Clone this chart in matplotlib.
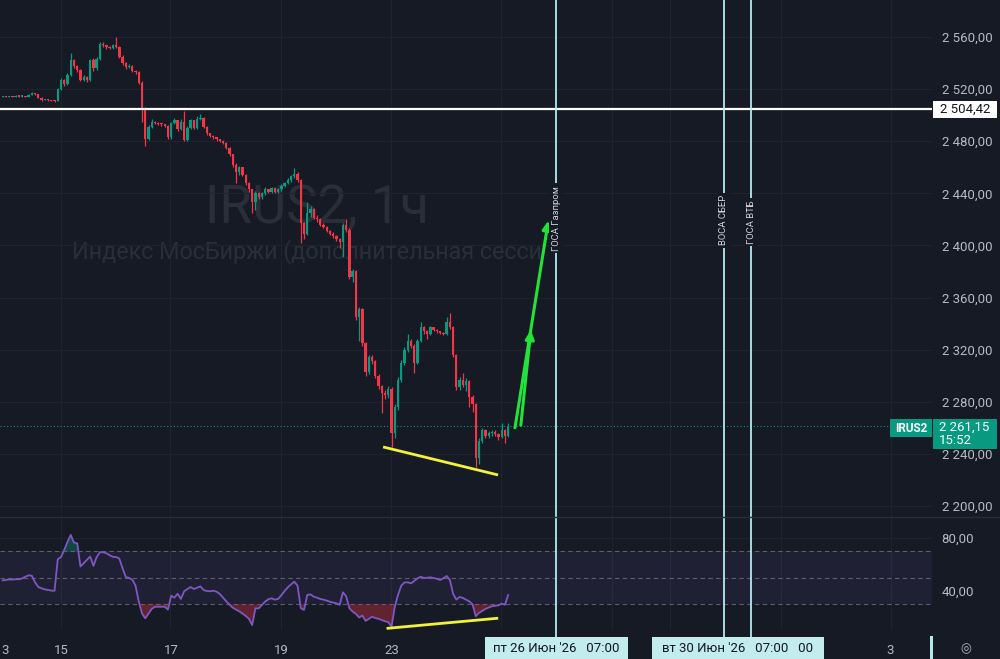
import numpy as np
import matplotlib.pyplot as plt
from matplotlib.patches import Rectangle
from matplotlib.ticker import FuncFormatter

plt.rcParams['font.family'] = ['Roboto', 'DejaVu Sans']

# ---- данные (часовые свечи IRUS2) ----
first_open = 2514.0
closes = [
    2514.5, 2514.0, 2514.6, 2514.2, 2514.8, 2514.3, 2514.6, 2514.0, 2515.5, 2516.8,
    2516.0, 2513.5, 2511.8, 2512.0, 2511.5, 2511.2, 2511.0, 2520.0, 2527.0, 2524.0,
    2531.0, 2542.0, 2538.0, 2535.0, 2527.0, 2529.0, 2527.0, 2542.0, 2536.0, 2543.0,
    2555.0, 2553.5, 2552.0, 2551.5, 2554.0, 2552.5, 2545.0, 2540.0, 2537.0, 2538.0,
    2534.0, 2533.0, 2525.0, 2505.0, 2482.0, 2491.0, 2495.0, 2494.0, 2493.5, 2493.0,
    2492.0, 2483.0, 2494.0, 2496.0, 2489.0, 2495.0, 2481.0, 2490.0, 2496.0, 2490.0,
    2497.0, 2498.0, 2491.0, 2486.0, 2484.0, 2483.0, 2481.5, 2480.5, 2479.0, 2475.0,
    2470.0, 2462.0, 2456.0, 2460.0, 2454.0, 2448.0, 2443.0, 2433.0, 2440.0, 2437.0,
    2440.0, 2443.0, 2441.0, 2444.0, 2441.0, 2443.0, 2446.0, 2448.0, 2450.0, 2453.0,
    2455.0, 2450.0, 2417.0, 2409.0, 2425.0, 2428.0, 2421.0, 2420.0, 2416.0, 2414.0,
    2411.0, 2409.0, 2407.0, 2405.0, 2403.0, 2416.0, 2412.0, 2376.0, 2380.0, 2345.0,
    2351.0, 2325.0, 2303.0, 2314.0, 2311.0, 2300.0, 2292.0, 2287.0, 2285.0, 2290.0,
    2256.0, 2276.0, 2297.0, 2310.0, 2320.0, 2327.0, 2323.0, 2310.0, 2327.0, 2337.0,
    2334.0, 2332.0, 2337.0, 2335.0, 2334.0, 2333.0, 2332.0, 2341.0, 2337.0, 2316.0,
    2291.0, 2297.0, 2293.0, 2296.0, 2284.0, 2278.0, 2237.0, 2250.0, 2258.0, 2254.0,
    2256.0, 2257.0, 2255.0, 2253.0, 2258.0, 2254.0, 2261.15,
]
highs = [
    2515.0, 2514.8, 2515.0, 2514.9, 2515.2, 2515.0, 2515.0, 2514.8, 2516.0, 2517.5,
    2517.0, 2516.2, 2513.8, 2512.6, 2512.3, 2511.8, 2511.6, 2521.0, 2528.5, 2527.5,
    2532.5, 2548.0, 2543.0, 2538.5, 2535.5, 2530.5, 2530.0, 2543.0, 2544.0, 2544.5,
    2556.5, 2556.0, 2554.0, 2553.0, 2555.0, 2560.0, 2553.0, 2546.0, 2541.0, 2539.0,
    2538.5, 2535.0, 2534.0, 2526.0, 2506.0, 2492.5, 2497.0, 2495.5, 2494.5, 2494.0,
    2493.5, 2492.5, 2495.0, 2498.0, 2496.5, 2497.0, 2503.0, 2491.5, 2497.0, 2496.5,
    2499.0, 2501.0, 2498.5, 2491.5, 2486.5, 2484.5, 2483.5, 2482.0, 2481.0, 2479.5,
    2475.5, 2470.5, 2463.0, 2461.0, 2460.5, 2455.0, 2448.5, 2443.5, 2441.5, 2441.0,
    2441.0, 2444.5, 2443.5, 2445.0, 2444.5, 2444.0, 2447.0, 2449.0, 2451.5, 2454.0,
    2459.5, 2456.0, 2451.0, 2418.0, 2433.0, 2430.0, 2429.0, 2423.0, 2421.0, 2417.0,
    2415.0, 2412.0, 2410.0, 2408.0, 2406.0, 2417.0, 2420.0, 2413.0, 2382.0, 2381.0,
    2353.0, 2352.0, 2326.0, 2316.0, 2316.0, 2312.0, 2301.0, 2293.0, 2289.0, 2292.0,
    2291.0, 2278.0, 2299.0, 2312.0, 2322.0, 2332.0, 2328.0, 2324.0, 2328.0, 2341.0,
    2338.0, 2335.0, 2338.5, 2337.5, 2335.5, 2334.5, 2333.5, 2345.0, 2348.0, 2338.0,
    2317.0, 2299.0, 2302.0, 2298.0, 2297.0, 2285.0, 2279.0, 2252.0, 2260.0, 2259.0,
    2257.5, 2258.5, 2258.0, 2256.0, 2264.0, 2259.0, 2264.0,
]
lows = [
    2513.6, 2513.6, 2513.8, 2513.9, 2514.0, 2514.0, 2514.1, 2513.6, 2513.9, 2515.2,
    2515.5, 2513.0, 2511.2, 2511.4, 2511.0, 2510.6, 2510.2, 2510.8, 2519.0, 2522.5,
    2523.0, 2530.0, 2536.5, 2533.0, 2526.0, 2526.0, 2525.5, 2526.5, 2534.0, 2535.0,
    2542.0, 2552.5, 2551.0, 2550.5, 2551.0, 2551.5, 2544.0, 2538.5, 2535.5, 2536.0,
    2533.0, 2531.5, 2524.0, 2495.0, 2476.0, 2481.0, 2490.0, 2493.0, 2492.5, 2492.0,
    2491.0, 2481.5, 2482.0, 2493.0, 2488.0, 2488.5, 2480.0, 2480.5, 2489.0, 2489.0,
    2489.5, 2496.0, 2490.0, 2485.0, 2483.0, 2482.0, 2480.5, 2479.5, 2478.0, 2474.0,
    2468.5, 2460.0, 2448.0, 2454.0, 2453.0, 2446.5, 2441.0, 2425.0, 2427.0, 2435.5,
    2436.0, 2439.0, 2440.0, 2440.0, 2440.0, 2440.5, 2442.0, 2445.0, 2447.0, 2449.0,
    2452.0, 2449.0, 2402.0, 2405.0, 2408.0, 2422.0, 2420.0, 2418.0, 2415.0, 2413.0,
    2410.0, 2408.0, 2405.5, 2403.5, 2398.0, 2391.0, 2410.0, 2374.0, 2372.0, 2343.0,
    2327.0, 2323.0, 2300.0, 2301.0, 2309.0, 2298.0, 2290.0, 2271.0, 2282.0, 2283.0,
    2245.0, 2252.0, 2274.0, 2295.0, 2308.0, 2318.0, 2321.0, 2302.0, 2309.0, 2326.0,
    2332.0, 2328.0, 2331.0, 2334.0, 2333.0, 2332.0, 2331.0, 2331.0, 2336.0, 2314.0,
    2289.0, 2289.0, 2291.0, 2288.0, 2276.0, 2272.0, 2230.0, 2232.0, 2248.0, 2252.0,
    2252.0, 2254.0, 2253.5, 2251.0, 2252.0, 2248.0, 2253.0,
]
rsi = [
    48.0, 48.3, 48.8, 48.6, 48.9, 48.8, 49.5, 50.8, 51.8, 51.5,
    46.5, 43.0, 42.0, 41.2, 40.8, 40.3, 40.2, 64.0, 65.5, 71.0,
    77.0, 82.3, 76.5, 76.0, 58.5, 61.0, 63.5, 66.0, 59.0, 65.5,
    69.3, 69.2, 68.5, 67.0, 65.8, 65.6, 64.5, 57.0, 50.5, 49.9,
    48.5, 44.0, 32.0, 23.0, 19.4, 23.0, 26.5, 28.1, 28.1, 28.1,
    28.1, 26.0, 36.5, 35.0, 38.0, 34.0, 39.8, 41.5, 43.0, 41.5,
    42.5, 43.5, 40.8, 40.0, 39.8, 40.2, 39.5, 37.8, 35.0, 32.2,
    29.8, 27.4, 26.0, 24.7, 23.0, 21.2, 19.0, 14.3, 26.9, 26.9,
    29.4, 32.0, 33.8, 34.5, 33.5, 34.0, 36.8, 40.0, 42.8, 45.0,
    47.0, 44.0, 27.0, 25.7, 37.0, 37.5, 35.7, 35.0, 34.0, 33.5,
    32.8, 31.9, 31.3, 30.7, 29.5, 39.0, 36.0, 27.0, 24.5, 22.8,
    20.0, 21.5, 17.5, 19.0, 20.6, 19.6, 19.0, 18.1, 17.2, 16.5,
    13.1, 28.0, 37.0, 44.0, 46.5, 46.5, 45.8, 47.5, 49.5, 50.8,
    49.8, 50.0, 50.3, 49.8, 49.2, 48.3, 49.6, 51.3, 48.5, 38.0,
    33.5, 35.5, 34.8, 33.5, 32.2, 30.0, 21.0, 23.5, 25.0, 26.5,
    27.5, 28.5, 28.8, 29.2, 30.5, 29.6, 37.0,
]

level_price = 2504.42
last_price = 2261.15
price_ticks = [2200, 2240, 2280, 2320, 2360, 2400, 2440, 2480, 2520, 2560]
rsi_ticks = [80, 40]

day_ticks = [0.7, 18, 52, 86, 120, 274]
day_labels = ['3', '15', '17', '19', '23', '3']
grid_x = [18, 51.6, 85.9, 119.9, 153.8, 188.1, 205.9, 240.2, 274.2]

event_x = [170.8, 222.6, 231.0]
event_labels = ['ГОСА Газпром', 'ВОСА СБЕР', 'ГОСА ВТБ']
event_label_y = [2421, 2419.5, 2418]

# нарисованные линии/стрелки
price_line_x = [117.4, 152.9]
price_line_y = [2245.3, 2223.8]
rsi_line_x = [118.9, 152.5]
rsi_line_y = [11.9, 19.4]
arrows = [((158.1, 2260.0), (168.4, 2419.0)),
          ((159.9, 2262.0), (163.0, 2335.0))]

# ---- оформление ----
bg = '#161a25'
up_col = '#089981'
down_col = '#f23645'
grid_col = '#1f2330'
txt_col = '#b7bac2'
cyan = '#b2ebf2'

W, H = 1000, 659
fig = plt.figure(figsize=(10, 6.59), dpi=100, facecolor=bg)

def fx(px):
    return px / W

def fy(py):
    return 1 - py / H

ax = fig.add_axes([0, fy(516), fx(932), 516 / H], facecolor=bg)
ax2 = fig.add_axes([0, fy(630), fx(932), (630 - 517) / H], facecolor=bg)

xlim = (-0.83, 286.8)
for a in (ax, ax2):
    a.set_xlim(*xlim)
    for s in a.spines.values():
        s.set_visible(False)
    for gx in grid_x:
        a.axvline(gx, color=grid_col, lw=0.8, zorder=0)

# свечи
idx = np.arange(len(closes))
c = np.array(closes)
o = np.array([first_open] + closes[:-1])
cols = np.where(c >= o, up_col, down_col)
ax.vlines(idx, lows, highs, colors=cols, lw=0.9, zorder=3)
ax.bar(idx, np.maximum(np.abs(c - o), 0.8), bottom=np.minimum(o, c), width=0.72,
       color=cols, linewidth=0, zorder=4)

ax.set_ylim(2192.3, 2588.4)
ax.set_yticks(price_ticks)
ax.set_xticks([])
ax.yaxis.tick_right()
fmt = FuncFormatter(lambda v, p: f"{v:,.2f}".replace(",", " ").replace(".", ","))
ax.yaxis.set_major_formatter(fmt)
ax.tick_params(axis='y', length=0, pad=7, labelsize=9.5, labelcolor=txt_col)
ax.grid(axis='y', color=grid_col, lw=0.8, zorder=0)

# водяной знак
ax.text(0.340, 0.597, 'IRUS2, 1ч', transform=ax.transAxes, ha='center', va='center',
        fontsize=38, color='#2a2e39', zorder=1)
ax.text(0.329, 0.512, 'Индекс МосБиржи (дополнительная сесси', transform=ax.transAxes,
        ha='center', va='center', fontsize=16.8, color='#2a2e39', zorder=1)

ax.axhline(level_price, color='white', lw=1.6, zorder=5)
ax.axhline(last_price, color=up_col, lw=0.8, ls=(0, (1, 2)), zorder=2)

ax.plot(price_line_x, price_line_y, color='#f2f23a', lw=2, zorder=6,
        solid_capstyle='butt')
for start, end in arrows:
    ax.annotate('', xy=end, xytext=start,
                arrowprops=dict(arrowstyle='-|>', color='#22e33a', lw=2.2,
                                mutation_scale=13, shrinkA=0, shrinkB=0), zorder=6)

# вертикальные линии событий
for ex, lab, ly in zip(event_x, event_labels, event_label_y):
    ax.axvline(ex, color=cyan, lw=1.3, zorder=5)
    ax2.axvline(ex, ymin=-0.062, ymax=1, color=cyan, lw=1.3, zorder=5, clip_on=False)
    ax.text(ex, ly, lab, rotation=90, ha='center', va='center', fontsize=6.8,
            color='#d1d4dc', zorder=6,
            bbox=dict(boxstyle='square,pad=0.25', fc=bg, ec='none'))

# RSI
r = np.array(rsi)
ax2.set_ylim(10.6, 95.8)
ax2.axhspan(30, 70, color='#7e57c2', alpha=0.1, lw=0, zorder=1)
for lvl in (70, 50, 30):
    ax2.axhline(lvl, color='#787b86', lw=0.8, ls=(0, (4, 3)), alpha=0.7, zorder=2)
ax2.fill_between(idx, r, 30, where=r < 30, interpolate=True, color='#f23645',
                 alpha=0.35, lw=0, zorder=2)
ax2.fill_between(idx, r, 70, where=r > 70, interpolate=True, color='#089981',
                 alpha=0.35, lw=0, zorder=2)
ax2.plot(idx, r, color='#7e57c2', lw=1.3, zorder=3)
ax2.plot(rsi_line_x, rsi_line_y, color='#f2f23a', lw=2, zorder=6)

ax2.set_yticks(rsi_ticks)
ax2.yaxis.tick_right()
ax2.yaxis.set_major_formatter(fmt)
ax2.tick_params(axis='y', length=0, pad=7, labelsize=9.5, labelcolor=txt_col)
ax2.grid(axis='y', color=grid_col, lw=0.8, zorder=0)
ax2.set_xticks(day_ticks)
ax2.set_xticklabels(day_labels)
ax2.tick_params(axis='x', length=0, pad=10, labelsize=9.5, labelcolor=txt_col)

# разделитель панелей
fig.add_artist(plt.Line2D([0, 1], [fy(516.5), fy(516.5)], color='#2a2e39', lw=1))

# метки на шкале цены
def box(x0, y0, x1, y1, color):
    fig.add_artist(Rectangle((fx(x0), fy(y1)), fx(x1 - x0), (y1 - y0) / H,
                             transform=fig.transFigure, fc=color, ec='none', zorder=5))

box(933, 101, 997, 118, 'white')
fig.text(fx(965), fy(109.5), fmt(level_price), ha='center', va='center',
         fontsize=9.5, color='#131722', zorder=6)

box(890, 419, 932, 437, up_col)
fig.text(fx(911), fy(428), 'IRUS2', ha='center', va='center', fontsize=8.5,
         color='white', weight='bold', zorder=6)
box(933, 419, 997, 449, up_col)
fig.text(fx(939), fy(434), fmt(last_price) + '\n15:52', ha='left', va='center',
         fontsize=9.5, color='white', linespacing=1.0, zorder=6)

# метки времени
box(485, 637, 628, 659, '#c3ecef')
fig.text(fx(556.5), fy(648.5), "пт 26 Июн '26   07:00", ha='center', va='center',
         fontsize=9.5, color='#131722', zorder=6)
box(652, 637, 824, 659, '#c3ecef')
fig.text(fx(738), fy(648.5), "вт 30 Июн '26   07:00   00", ha='center', va='center',
         fontsize=9.5, color='#131722', zorder=6)
box(929.5, 636, 932.5, 659, cyan)
fig.text(fx(966), fy(649), '◎', ha='center', va='center', fontsize=9,
         color=txt_col, zorder=6)

fig.savefig('out.png', dpi=100, facecolor=bg)
